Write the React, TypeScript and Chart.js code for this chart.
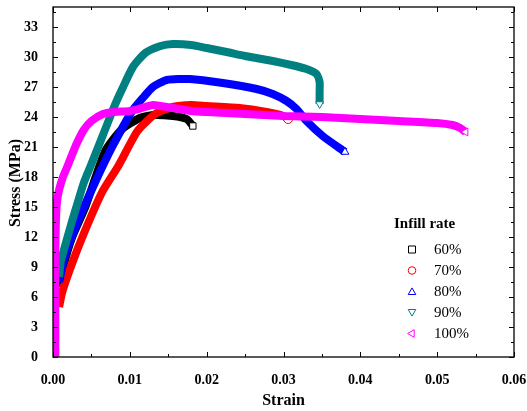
import React, { useEffect, useRef } from 'react';
import { Chart, registerables } from 'chart.js';

Chart.register(...registerables);

// ---------- data ----------
const seriesLabels = ['60%', '70%', '80%', '90%', '100%'];
const seriesColors = ['#000000', '#FF0000', '#0000FF', '#008080', '#FF00FF'];

const strain60 = [0.0008, 0.0015, 0.0025, 0.0042, 0.0068, 0.009, 0.0113, 0.013, 0.0156, 0.0174, 0.0182];
const stress60 = [7.0, 9.5, 12.0, 15.0, 20.6, 22.8, 23.9, 24.2, 24.1, 23.8, 23.1];

const strain70 = [0.0008, 0.0012, 0.0025, 0.0042, 0.0064, 0.0085, 0.011, 0.0133, 0.0156, 0.018, 0.02, 0.0243, 0.0278, 0.03, 0.0306];
const stress70 = [5.0, 6.5, 9.4, 12.7, 16.5, 19.1, 22.6, 24.3, 25.0, 25.2, 25.1, 24.9, 24.5, 24.1, 23.8];

const strain80 = [0.0008, 0.0015, 0.0032, 0.0055, 0.0077, 0.0103, 0.0118, 0.013, 0.0148, 0.0178, 0.0221, 0.0265, 0.0286, 0.0304, 0.0317, 0.033, 0.0351, 0.038];
const stress80 = [7.5, 10.0, 13.5, 17.5, 21.0, 24.6, 26.0, 27.0, 27.7, 27.8, 27.4, 26.8, 26.3, 25.6, 24.8, 23.6, 22.1, 20.5];

const strain90 = [0.0008, 0.001, 0.002, 0.003, 0.004, 0.005, 0.0064, 0.008, 0.009, 0.0104, 0.012, 0.014, 0.0156, 0.018, 0.02, 0.0226, 0.025, 0.0286, 0.031, 0.033, 0.0343, 0.0347, 0.0347, 0.0347];
const stress90 = [8.0, 9.5, 12.3, 14.9, 17.4, 19.3, 22.0, 25.1, 26.8, 29.0, 30.4, 31.1, 31.3, 31.2, 30.9, 30.5, 30.1, 29.6, 29.2, 28.8, 28.3, 27.5, 26.5, 25.3];

const strain100 = [0.0003, 0.0003, 0.0003, 0.0004, 0.0006, 0.0012, 0.002, 0.003, 0.004, 0.005, 0.0065, 0.008, 0.01, 0.012, 0.013, 0.014, 0.0156, 0.018, 0.02, 0.025, 0.03, 0.035, 0.04, 0.045, 0.05, 0.052, 0.053, 0.0537];
const stress100 = [0, 5, 10, 14, 16, 17.8, 19.3, 21.2, 22.7, 23.6, 24.3, 24.5, 24.6, 25.0, 25.2, 25.1, 24.9, 24.6, 24.5, 24.3, 24.1, 24.0, 23.8, 23.6, 23.4, 23.2, 22.9, 22.5];

const xTickValues = [0, 0.01, 0.02, 0.03, 0.04, 0.05, 0.06];
const yTickValues = [0, 3, 6, 9, 12, 15, 18, 21, 24, 27, 30, 33];

const xTitle = 'Strain';
const yTitle = 'Stress (MPa)';
const legendTitle = 'Infill rate';

const SERIF = "'Times New Roman', 'Liberation Serif', Times, serif";

const pointStyles = ['rect', 'circle', 'triangle', 'triangle', 'triangle'];
const pointRotations = [0, 0, 0, 180, -90];

function toPoints(xs: number[], ys: number[]) {
  return xs.map((x, i) => ({ x, y: ys[i] }));
}

const allStrain = [strain60, strain70, strain80, strain90, strain100];
const allStress = [stress60, stress70, stress80, stress90, stress100];

function drawMarker(ctx: CanvasRenderingContext2D, kind: number, x: number, y: number, color: string) {
  ctx.save();
  ctx.strokeStyle = color;
  ctx.fillStyle = '#fff';
  ctx.lineWidth = 1;
  ctx.beginPath();
  const r = 4;
  if (kind === 0) {
    ctx.rect(x - 3.5, y - 3.5, 7, 7);
  } else if (kind === 1) {
    ctx.arc(x, y, 3.8, 0, Math.PI * 2);
  } else {
    const rot = (pointRotations[kind] * Math.PI) / 180;
    for (let i = 0; i < 3; i++) {
      const a = rot + (i * 2 * Math.PI) / 3;
      const px = x + Math.sin(a) * r * 1.1;
      const py = y - Math.cos(a) * r * 1.1 + (kind === 4 ? 0 : kind === 2 ? 0.8 : -0.8);
      if (i === 0) ctx.moveTo(px, py);
      else ctx.lineTo(px, py);
    }
    ctx.closePath();
  }
  ctx.fill();
  ctx.stroke();
  ctx.restore();
}

const framePlugin = {
  id: 'frameAndLegend',
  afterDraw(chart: any) {
    const ctx: CanvasRenderingContext2D = chart.ctx;
    const { left, right, top, bottom } = chart.chartArea;
    const xs = chart.scales.x;
    const ys = chart.scales.y;
    ctx.save();
    ctx.strokeStyle = '#000';
    ctx.lineWidth = 1.3;
    ctx.strokeRect(left, top, right - left, bottom - top);

    ctx.lineWidth = 1;
    ctx.beginPath();
    const xStep = xTickValues[1] - xTickValues[0];
    xTickValues.forEach((v) => {
      const p = Math.round(xs.getPixelForValue(v)) + 0.5;
      ctx.moveTo(p, bottom); ctx.lineTo(p, bottom - 5);
      ctx.moveTo(p, top); ctx.lineTo(p, top + 5);
      const m = v + xStep / 2;
      if (m < xs.max) {
        const pm = Math.round(xs.getPixelForValue(m)) + 0.5;
        ctx.moveTo(pm, bottom); ctx.lineTo(pm, bottom - 3);
        ctx.moveTo(pm, top); ctx.lineTo(pm, top + 3);
      }
    });
    const yStep = yTickValues[1] - yTickValues[0];
    yTickValues.forEach((v) => {
      const p = Math.round(ys.getPixelForValue(v)) + 0.5;
      ctx.moveTo(left, p); ctx.lineTo(left + 5, p);
      ctx.moveTo(right, p); ctx.lineTo(right - 5, p);
      const m = v + yStep / 2;
      if (m < ys.max) {
        const pm = Math.round(ys.getPixelForValue(m)) + 0.5;
        ctx.moveTo(left, pm); ctx.lineTo(left + 3, pm);
        ctx.moveTo(right, pm); ctx.lineTo(right - 3, pm);
      }
    });
    ctx.stroke();

    // axis titles
    ctx.fillStyle = '#000';
    ctx.font = `bold 16px ${SERIF}`;
    ctx.textAlign = 'center';
    ctx.textBaseline = 'middle';
    ctx.fillText(xTitle, (left + right) / 2, 401);
    ctx.save();
    ctx.translate(16, 183);
    ctx.rotate(-Math.PI / 2);
    ctx.fillText(yTitle, 0, 0);
    ctx.restore();

    // legend
    ctx.textAlign = 'left';
    ctx.font = `bold 15px ${SERIF}`;
    ctx.fillText(legendTitle, 394, 224);
    ctx.font = `15px ${SERIF}`;
    seriesLabels.forEach((lab, i) => {
      const y = 249.5 + i * 21;
      drawMarker(ctx, i, 412, y, seriesColors[i]);
      ctx.fillStyle = '#000';
      ctx.fillText(lab, 434, y + 1);
    });
    ctx.restore();
  },
};

export default function App() {
  const ref = useRef<HTMLCanvasElement | null>(null);

  useEffect(() => {
    if (!ref.current) return;
    Chart.defaults.color = '#000';
    const datasets = seriesLabels.map((lab, i) => {
      const n = allStrain[i].length;
      return {
        label: lab,
        data: toPoints(allStrain[i], allStress[i]),
        borderColor: seriesColors[i],
        backgroundColor: '#ffffff',
        borderWidth: 8,
        tension: 0.2,
        pointStyle: pointStyles[i],
        pointRotation: pointRotations[i],
        pointRadius: allStrain[i].map((_, j) => (j === n - 1 ? 4.5 : 0)),
        pointBorderWidth: 1,
        pointBorderColor: seriesColors[i],
        pointBackgroundColor: '#ffffff',
        order: seriesLabels.length - i,
      };
    });

    const chart = new Chart(ref.current, {
      type: 'line',
      data: { datasets },
      options: {
        animation: false,
        responsive: false,
        devicePixelRatio: 1,
        layout: { padding: { left: 0, right: 13, top: 7, bottom: 0 } },
        plugins: { legend: { display: false }, tooltip: { enabled: false } },
        scales: {
          x: {
            type: 'linear',
            min: 0,
            max: 0.06,
            grid: { display: false },
            border: { display: false },
            afterBuildTicks: (s: any) => {
              s.ticks = xTickValues.map((v) => ({ value: v }));
            },
            afterFit: (s: any) => {
              s.height = 54;
              s.paddingLeft = 0;
              s.paddingRight = 0;
            },
            ticks: {
              padding: 7,
              maxRotation: 0,
              autoSkip: false,
              font: { family: SERIF, size: 14, weight: 'bold' },
              callback: (v: any) => Number(v).toFixed(2),
            },
          },
          y: {
            type: 'linear',
            min: 0,
            max: 35,
            grid: { display: false },
            border: { display: false },
            afterBuildTicks: (s: any) => {
              s.ticks = yTickValues.map((v) => ({ value: v }));
            },
            afterFit: (s: any) => {
              s.width = 53;
              s.paddingTop = 0;
              s.paddingBottom = 0;
            },
            ticks: {
              padding: 7,
              autoSkip: false,
              font: { family: SERIF, size: 14, weight: 'bold' },
              callback: (v: any) => String(v),
            },
          },
        },
      } as any,
      plugins: [framePlugin],
    });
    return () => chart.destroy();
  }, []);

  return (
    <div style={{ position: 'fixed', left: 0, top: 0, width: 527, height: 411, background: '#fff' }}>
      <canvas ref={ref} width={527} height={411} style={{ width: 527, height: 411, display: 'block' }} />
    </div>
  );
}
